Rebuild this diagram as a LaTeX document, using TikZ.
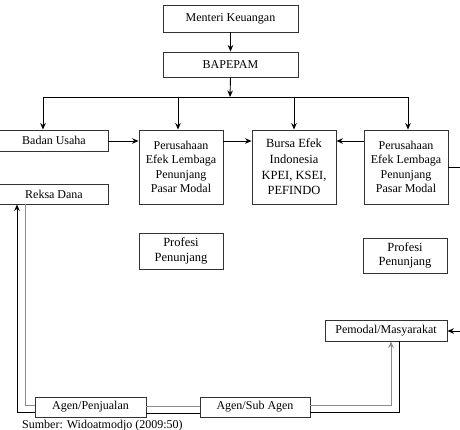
\documentclass[tikz,border=0pt]{standalone}
\usepackage{fontspec}
\setmainfont{Liberation Serif}
\usetikzlibrary{arrows.meta}
\begin{document}
\begin{tikzpicture}[x=1pt,y=-1pt,
  box/.style={draw=black!80,line width=0.9pt,inner sep=0pt,align=center,
    font=\fontsize{12}{14.5}\selectfont},
  conn/.style={line width=0.9pt,draw=black},
  conng/.style={line width=1pt,draw=black!45},
  arr/.style={-{Stealth[length=6.5pt,width=5.5pt]}}]
\useasboundingbox (0,0) rectangle (460,430);
\node[box,minimum width=135pt,minimum height=27pt] (mk) at (230.5,18.5) {Menteri Keuangan};
\node[box,minimum width=135pt,minimum height=25pt] (bap) at (230.5,64.5) {BAPEPAM};
\node[box,minimum width=110pt,minimum height=21pt] (bu) at (53,140.5) {\hspace*{2pt}Badan Usaha};
\node[box,minimum width=110pt,minimum height=20pt] (rd) at (53,194) {\hspace*{2pt}Reksa Dana};
\node[box,minimum width=84pt,minimum height=74pt] (pe1) at (181,167) {Perusahaan\\Efek Lembaga\\Penunjang\\Pasar Modal};
\node[box,minimum width=84pt,minimum height=74pt,font=\fontsize{12.5}{15.7}\selectfont] (bei) at (294,167) {Bursa Efek\\Indonesia\\KPEI, KSEI,\\PEFINDO};
\node[box,minimum width=84pt,minimum height=74pt] (pe2) at (406,167) {Perusahaan\\Efek Lembaga\\Penunjang\\Pasar Modal};
\node[box,minimum width=84pt,minimum height=36pt,font=\fontsize{12.5}{15.3}\selectfont] (pp1) at (181,251) {Profesi\\Penunjang};
\node[box,minimum width=84pt,minimum height=35pt,font=\fontsize{12.5}{15.3}\selectfont] (pp2) at (405,255.5) {Profesi\\[-1pt]Penunjang};
\node[box,minimum width=122pt,minimum height=21pt] (pm) at (386,330.5) {Pemodal/Masyarakat};
\node[box,minimum width=111pt,minimum height=20pt] (ap) at (90.5,407) {Agen/Penjualan};
\node[box,minimum width=110pt,minimum height=20pt] (as) at (255,407) {Agen/Sub Agen};
\node[anchor=north west,inner sep=0pt,font=\fontsize{12}{14}\selectfont] (src) at (22,419.5) {Sumber: Widoatmodjo (2009:50)};
% top
\draw[conn,arr] (mk) -- (bap);
\coordinate (hub) at (230,97);
\draw[conn,arr] (bap.south) -- (hub);
\coordinate (h1) at (43,97);
\coordinate (h2) at (178,97);
\coordinate (h3) at (294,97);
\coordinate (h4) at (408,97);
\draw[conn] (h1) -- (h4);
\draw[conn,arr] (h1) -- (h1 |- bu.north);
\draw[conn,arr] (h2) -- (h2 |- pe1.north);
\draw[conn,arr] (h3) -- (h3 |- bei.north);
\draw[conn,arr] (h4) -- (h4 |- pe2.north);
% middle row
\coordinate (r) at (0,141);
\draw[conn,arr] (bu.east |- r) -- (pe1.west |- r);
\draw[conn,arr] (pe1.east |- r) -- (bei.west |- r);
\draw[conn,arr] (pe2.west |- r) -- (bei.east |- r);
\coordinate (re) at (460,167);
\draw[conn] (pe2.east) -- (re);
\coordinate (pmin) at (460,331);
\draw[conn,arr] (pmin) -- (pm.east |- pmin);
% bottom loop
\coordinate (l1) at (17,412);
\coordinate (l2) at (25,405);
\draw[conn,arr] (ap.west |- l1) -- (l1) -- (l1 |- rd.south);
\draw[conng] (l2 |- rd.south) -- (l2) -- (ap.west |- l2);
\coordinate (m1) at (0,406);
\coordinate (m2) at (0,413);
\draw[conng] (ap.east |- m1) -- (as.west |- m1);
\draw[conn] (ap.east |- m2) -- (as.west |- m2);
\coordinate (p1) at (391,405);
\coordinate (p2) at (399,412);
\draw[conng,arr] (as.east |- p1) -- (p1) -- (p1 |- pm.south);
\draw[conn] (as.east |- p2) -- (p2) -- (p2 |- pm.south);
\end{tikzpicture}
\end{document}
